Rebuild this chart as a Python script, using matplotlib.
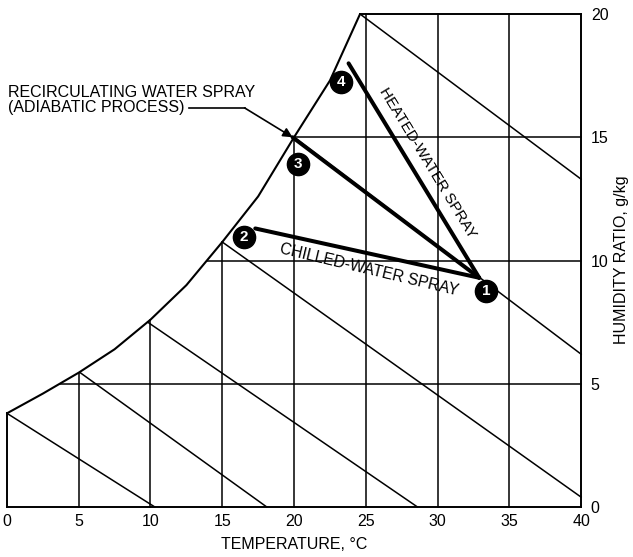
import numpy as np
import matplotlib
matplotlib.use("Agg")
from matplotlib import pyplot as plt

plt.rcParams["font.family"] = ["Liberation Sans", "DejaVu Sans"]

# saturation curve (temperature degC, humidity ratio g/kg)
sat_t = [0, 2.5, 5, 7.5, 10, 12.5, 15, 17.5, 20, 22.5, 24.6]
sat_w = [3.8, 4.6, 5.45, 6.4, 7.6, 9.0, 10.75, 12.6, 15.0, 17.3, 20.0]

# wet-bulb lines: start and end points
wb_t0 = [0, 5.1, 9.8, 15.0, 20.0, 24.6]
wb_w0 = [3.8, 5.45, 7.5, 10.75, 15.0, 20.0]
wb_t1 = [10.3, 18.1, 28.6, 40, 40, 40]
wb_w1 = [0, 0, 0, 0.4, 6.2, 13.3]

# process lines, each ending at state 1
state1 = (32.9, 9.3)
process_t = [17.3, 19.9, 23.8]   # chilled, adiabatic, heated
process_w = [11.3, 15.0, 18.0]

# numbered markers
marker_labels = ["1", "2", "3", "4"]
marker_t = [33.4, 16.5, 20.25, 23.3]
marker_w = [8.76, 10.95, 13.9, 17.24]

x_ticks = [0, 5, 10, 15, 20, 25, 30, 35, 40]
y_ticks = [0, 5, 10, 15, 20]

fig = plt.figure(figsize=(6.33, 5.57), dpi=100)
ax = fig.add_axes([0.011, 0.0898, 0.907, 0.885])
ax.set_xlim(0, 40)
ax.set_ylim(0, 20)

thin = 1.1
k = "black"

# saturation curve and partial borders
ax.plot(sat_t, sat_w, color=k, lw=1.5, clip_on=False, solid_capstyle="round")
ax.plot([0, 0], [0, sat_w[0]], color=k, lw=1.4, clip_on=False)
ax.plot([sat_t[-1], 40], [20, 20], color=k, lw=1.4, clip_on=False)

# grid clipped to the chart region
for t in x_ticks[1:-1]:
    top = min(np.interp(t, sat_t, sat_w), 20)
    ax.plot([t, t], [0, top], color=k, lw=thin, clip_on=False)
for w in y_ticks[1:-1]:
    left = np.interp(w, sat_w, sat_t)
    ax.plot([left, 40], [w, w], color=k, lw=thin, clip_on=False)

for t0, w0, t1, w1 in zip(wb_t0, wb_w0, wb_t1, wb_w1):
    ax.plot([t0, t1], [w0, w1], color=k, lw=thin, clip_on=False)

for t, w in zip(process_t, process_w):
    ax.plot([t, state1[0]], [w, state1[1]], color=k, lw=2.9,
            solid_capstyle="round")

for lab, t, w in zip(marker_labels, marker_t, marker_w):
    ax.plot(t, w, "o", ms=16, color=k, zorder=5)
    ax.text(t, w, lab, color="white", fontsize=11, fontweight="bold",
            ha="center", va="center", zorder=6)


def angle_of(p0, p1):
    a = ax.transData.transform(p0)
    b = ax.transData.transform(p1)
    return np.degrees(np.arctan2(b[1] - a[1], b[0] - a[0]))


fig.canvas.draw()
chill_ang = angle_of((process_t[0], process_w[0]), state1)
heat_ang = angle_of((process_t[2], process_w[2]), state1)
ax.text(25.2, 9.62, "CHILLED-WATER SPRAY", rotation=chill_ang - 1.0,
        rotation_mode="anchor", ha="center", va="center", fontsize=11.3)
ax.text(29.3, 13.95, "HEATED-WATER SPRAY", rotation=heat_ang,
        rotation_mode="anchor", ha="center", va="center", fontsize=11)

# callout for the adiabatic process
ax.text(0.07, 16.52, "RECIRCULATING WATER SPRAY\n(ADIABATIC PROCESS)",
        ha="left", va="center", fontsize=11.5, linespacing=1.0)
ax.plot([12.7, 16.56], [16.19, 16.19], color=k, lw=1.2)
ax.annotate("", xy=(process_t[1], process_w[1]), xytext=(16.56, 16.19),
            arrowprops=dict(arrowstyle="-|>", color=k, lw=1.2,
                            shrinkA=0, shrinkB=0, mutation_scale=14))

for side in ("left", "top"):
    ax.spines[side].set_visible(False)
for side in ("right", "bottom"):
    ax.spines[side].set_linewidth(1.4)

ax.yaxis.tick_right()
ax.set_xticks(x_ticks)
ax.set_yticks(y_ticks)
ax.tick_params(length=0, labelsize=11.5, pad=5)
ax.tick_params(axis="y", pad=7)
ax.set_xlabel("TEMPERATURE, °C", fontsize=11.5, labelpad=6)
fig.text(621.7 / 633, 1 - 260 / 557, "HUMIDITY RATIO, g/kg", rotation=90,
         ha="center", va="center", fontsize=11.5)

fig.savefig("out.png", dpi=100)
